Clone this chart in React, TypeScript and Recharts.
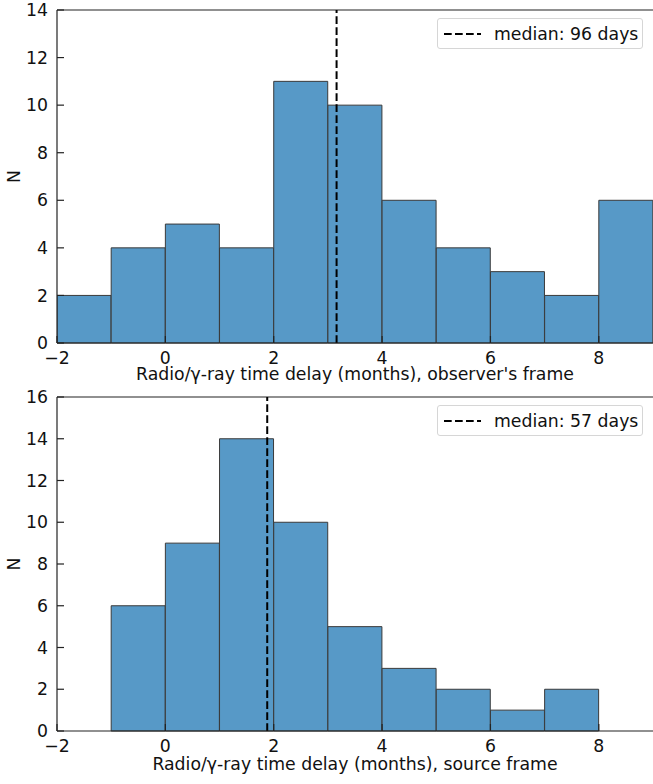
import React from 'react'
import { ComposedChart, Bar, XAxis, YAxis, ReferenceLine } from 'recharts'

// histogram bins (months), one unit wide
const observerBins = [-1.5, -0.5, 0.5, 1.5, 2.5, 3.5, 4.5, 5.5, 6.5, 7.5, 8.5]
const observerCounts = [2, 4, 5, 4, 11, 10, 6, 4, 3, 2, 6]
const sourceBins = [-0.5, 0.5, 1.5, 2.5, 3.5, 4.5, 5.5, 6.5, 7.5]
const sourceCounts = [6, 9, 14, 10, 5, 3, 2, 1, 2]

const xTicks = [-2, 0, 2, 4, 6, 8]
const observerYTicks = [0, 2, 4, 6, 8, 10, 12, 14]
const sourceYTicks = [0, 2, 4, 6, 8, 10, 12, 14, 16]

const observerMedian = 3.16
const sourceMedian = 1.88
const observerLegend = 'median: 96 days'
const sourceLegend = 'median: 57 days'

const FONT = '"DejaVu Sans", sans-serif'
const FS = 17.3
const INK = '#111'
const SPINE = '#222'
const BAR_FILL = '#5799c7'
const BAR_EDGE = '#3a3a3a'
const DASH = '7.7 3.3'

const minus = (v: number) => String(v).replace('-', '\u2212')

type HistProps = {
  bins: number[]
  counts: number[]
  yTicks: number[]
  median: number
  legend: string
  xLabel: string
  top: number
  height: number
  axisHeight: number
  labelOffset: number
}

function Hist({ bins, counts, yTicks, median, legend, xLabel, top, height, axisHeight, labelOffset }: HistProps) {
  const data = bins.map((b, i) => ({ x: b, n: counts[i] }))
  const yMax = yTicks[yTicks.length - 1]

  return (
    <div style={{ position: 'absolute', left: 0, top, width: 653, height }}>
      <ComposedChart
        width={653}
        height={height}
        data={data}
        margin={{ top: 10, right: 0, left: 0, bottom: 0 }}
        barCategoryGap={0}
        barGap={0}
      >
        <XAxis
          dataKey="x"
          type="number"
          domain={[-2, 9]}
          ticks={xTicks}
          interval={0}
          allowDataOverflow
          height={axisHeight}
          tickSize={-7}
          tickMargin={16}
          tickFormatter={minus}
          stroke={SPINE}
          strokeWidth={1.2}
          tick={{ fill: INK, fontSize: FS, fontFamily: FONT }}
          label={{
            content: ({ viewBox }: any) => (
              <text
                x={viewBox.x + viewBox.width / 2}
                y={viewBox.y + labelOffset}
                textAnchor="middle"
                fill={INK}
                fontSize={FS}
                fontFamily={FONT}
              >
                {xLabel}
              </text>
            ),
          }}
        />
        <YAxis
          type="number"
          domain={[0, yMax]}
          ticks={yTicks}
          interval={0}
          width={57}
          tickSize={-7}
          tickMargin={16}
          stroke={SPINE}
          strokeWidth={1.2}
          tick={{ fill: INK, fontSize: FS, fontFamily: FONT }}
          label={{
            content: ({ viewBox }: any) => {
              const cy = viewBox.y + viewBox.height / 2
              return (
                <text
                  x={14}
                  y={cy}
                  transform={`rotate(-90, 14, ${cy})`}
                  textAnchor="middle"
                  dominantBaseline="central"
                  fill={INK}
                  fontSize={FS}
                  fontFamily={FONT}
                >
                  N
                </text>
              )
            },
          }}
        />
        <Bar dataKey="n" fill={BAR_FILL} stroke={BAR_EDGE} strokeWidth={1} isAnimationActive={false} />
        <ReferenceLine y={yMax} stroke={SPINE} strokeWidth={1.2} />
        <ReferenceLine x={median} stroke="#000" strokeWidth={2} strokeDasharray={DASH} />
      </ComposedChart>
      <div
        style={{
          position: 'absolute',
          left: 437,
          top: 18,
          width: 204,
          height: 29,
          border: '1px solid #d6d6d6',
          borderRadius: 3,
          background: 'rgba(255,255,255,0.8)',
          fontFamily: FONT,
          fontSize: FS,
          color: INK,
          display: 'flex',
          alignItems: 'center',
          whiteSpace: 'nowrap',
        }}
      >
        <svg width={40} height={10} style={{ marginLeft: 6 }}>
          <line x1={0} y1={5} x2={37} y2={5} stroke="#000" strokeWidth={2} strokeDasharray={DASH} />
        </svg>
        <span style={{ marginLeft: 10 }}>{legend}</span>
      </div>
    </div>
  )
}

export default function App() {
  return (
    <div style={{ position: 'absolute', left: 0, top: 0, width: 653, height: 784, background: '#fff' }}>
      <Hist
        bins={observerBins}
        counts={observerCounts}
        yTicks={observerYTicks}
        median={observerMedian}
        legend={observerLegend}
        xLabel="Radio/γ-ray time delay (months), observer's frame"
        top={0}
        height={392}
        axisHeight={49}
        labelOffset={37}
      />
      <Hist
        bins={sourceBins}
        counts={sourceCounts}
        yTicks={sourceYTicks}
        median={sourceMedian}
        legend={sourceLegend}
        xLabel="Radio/γ-ray time delay (months), source frame"
        top={387}
        height={397}
        axisHeight={53}
        labelOffset={39}
      />
    </div>
  )
}
